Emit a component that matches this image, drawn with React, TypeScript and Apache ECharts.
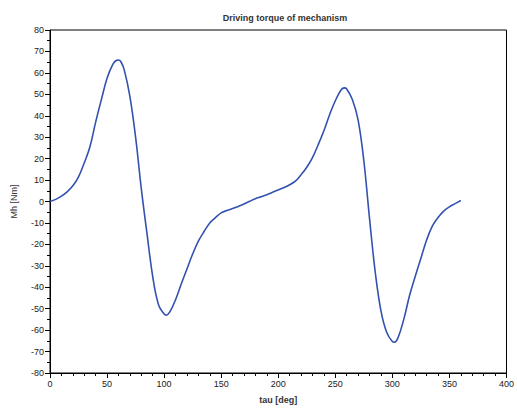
import React, { useEffect, useRef } from "react";
import * as echarts from "echarts";

const chartTitle = "Driving torque of mechanism";
const xName = "tau [deg]";
const yName = "Mh [Nm]";

const tauDeg = [
  0, 5, 10, 15, 20, 25, 30, 35, 40, 45, 50, 55, 58, 60, 62, 65, 70, 75, 80, 85, 90, 95,
  100, 102, 105, 110, 115, 120, 125, 130, 135, 140, 145, 150, 155, 160, 165, 170, 175,
  180, 185, 190, 195, 200, 205, 210, 215, 220, 225, 230, 235, 240, 245, 250, 255,
  258, 260, 265, 270, 275, 280, 285, 290, 295, 300, 302, 305, 310, 315, 320, 325, 330, 335,
  340, 345, 350, 355, 360,
];

const torque = [
  0, 1, 2.5, 4.5, 7.3, 11.5, 18, 25.5, 37, 47.5, 57.5, 64, 65.8, 66, 65.3, 61.5, 49, 30, 6, -15, -35, -48,
  -52.5, -53, -51.5, -45.8, -38.5, -31.5, -24.5, -18.5, -14, -10, -7.5, -5.3, -4.2, -3.3, -2.3, -1.2, 0.1,
  1.3, 2.2, 3.2, 4.3, 5.4, 6.5, 7.8, 9.5, 12.5, 16, 20.5, 26.5, 33, 40.5, 47, 52, 53, 52.5, 47.5, 38, 19,
  -8, -33, -51, -61, -65.3, -65.6, -63.5, -55, -44, -35, -26.5, -18, -11.5, -7.5, -4.5, -2.5, -1, 0.5,
];

const xTicks = { min: 0, max: 400, interval: 50 };
const yTicks = { min: -80, max: 80, interval: 10 };

export default function App() {
  const ref = useRef<HTMLDivElement>(null);
  useEffect(() => {
    if (!ref.current) return;
    const chart = echarts.init(ref.current, null, { renderer: "svg" });
    const font = "'Liberation Sans', Arial, sans-serif";
    chart.setOption({
      animation: false,
      backgroundColor: "#ffffff",
      title: {
        text: chartTitle,
        left: 280,
        top: 8,
        textAlign: "center",
        textStyle: { fontSize: 9, fontWeight: "bold", color: "#333333", fontFamily: font },
      },
      grid: {
        left: 50,
        right: 8,
        top: 30,
        bottom: 33,
        show: true,
        borderColor: "#000000",
        borderWidth: 1,
        backgroundColor: "transparent",
      },
      xAxis: {
        type: "value",
        min: xTicks.min,
        max: xTicks.max,
        interval: xTicks.interval,
        name: xName,
        nameLocation: "middle",
        nameGap: 22,
        nameTextStyle: { fontSize: 9, fontWeight: "bold", color: "#333333", fontFamily: font },
        axisLine: { show: true, onZero: false, lineStyle: { color: "#000000", width: 1 } },
        axisTick: { show: true, length: 5, lineStyle: { color: "#000000" } },
        minorTick: { show: true, splitNumber: 5, length: 3, lineStyle: { color: "#000000" } },
        axisLabel: { fontSize: 9, color: "#222222", fontFamily: font, margin: 6 },
        splitLine: { show: false },
      },
      yAxis: {
        type: "value",
        min: yTicks.min,
        max: yTicks.max,
        interval: yTicks.interval,
        name: yName,
        nameLocation: "middle",
        nameGap: 32,
        nameRotate: 90,
        nameTextStyle: { fontSize: 9, color: "#333333", fontFamily: font },
        axisLine: { show: true, onZero: false, lineStyle: { color: "#000000", width: 1 } },
        axisTick: { show: true, length: 5, lineStyle: { color: "#000000" } },
        minorTick: { show: true, splitNumber: 2, length: 3, lineStyle: { color: "#000000" } },
        axisLabel: { fontSize: 9, color: "#222222", fontFamily: font, margin: 6 },
        splitLine: { show: false },
      },
      series: [
        {
          type: "line",
          data: tauDeg.map((t, i) => [t, torque[i]]),
          smooth: 0.4,
          showSymbol: false,
          lineStyle: { color: "#3352b0", width: 1.6 },
        },
      ],
    });
    return () => chart.dispose();
  }, []);
  return <div ref={ref} style={{ width: 517, height: 409, position: "absolute", left: 0, top: 0 }} />;
}
